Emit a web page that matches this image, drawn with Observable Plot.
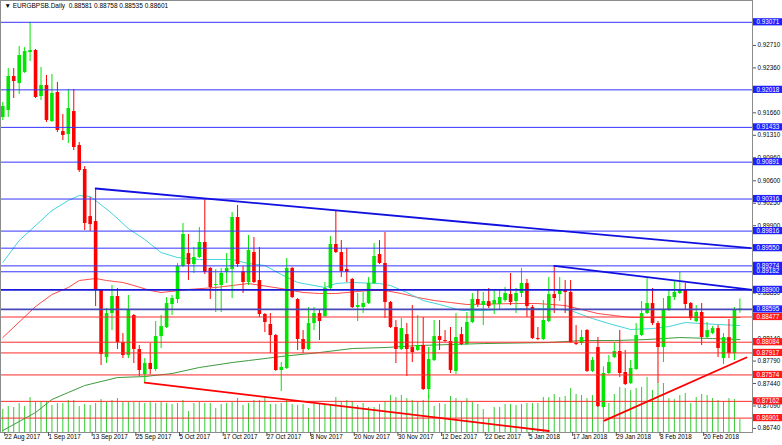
<!DOCTYPE html>
<html><head><meta charset="utf-8">
<script src="https://cdn.jsdelivr.net/npm/d3@7"></script>
<script src="https://cdn.jsdelivr.net/npm/@observablehq/plot@0.6"></script>
<style>
body{margin:0;background:#fff;}
#wrap{position:relative;width:782px;height:445px;overflow:hidden;font-family:"Liberation Sans",Arial,sans-serif;}
#wrap svg{position:absolute;left:0;top:0;}
</style></head><body><div id="wrap"></div>
<script>
// ---- data (daily bars, index 0 = 22 Aug 2017) ----
const dateLabels = ["22 Aug 2017","1 Sep 2017","13 Sep 2017","25 Sep 2017","5 Oct 2017","17 Oct 2017","27 Oct 2017","8 Nov 2017","20 Nov 2017","30 Nov 2017","12 Dec 2017","22 Dec 2017","5 Jan 2018","17 Jan 2018","29 Jan 2018","8 Feb 2018","20 Feb 2018"];
const dateBars = [0,8,16,24,32,40,48,56,64,72,80,88,96,104,112,120,128];

const open = [
.91587,.91696,.92226,.92117,.92289,.92600,.92631,.91914,.92086,.91525,
.91977,.91368,.91322,.91680,.91150,.90777,.90043,.89965,.88890,.87845,
.88531,.88796,.88079,.87876,.88500,.87970,.87581,.87752,.87659,.88172,
.88313,.88672,.88749,.89264,.89466,.89295,.89404,.89638,.89233,.88968,
.88968,.89171,.89218,.90028,.89186,.89015,.89482,.89046,.88516,.88360,
.88188,.87643,.87674,.89233,.88749,.88126,.87970,.88375,.88531,.88485,
.88921,.89607,.89482,.89218,.89062,.88625,.88625,.88687,.88999,.89451,
.89311,.88703,.88313,.87970,.88203,.88001,.87955,.88032,.87347,.87798,
.88172,.88110,.88095,.87628,.88203,.88048,.88391,.88749,.88656,.88718,
.88672,.88672,.88734,.88827,.88718,.88843,.88999,.88625,.88141,.88126,
.88406,.88827,.88827,.88890,.88859,.88063,.88063,.88266,.87628,.88001,
.87066,.87596,.87845,.87939,.87612,.87440,.87659,.88188,.88531,.88687,
.88375,.88001,.88578,.88781,.88843,.88890,.88687,.88406,.88547,.88157,
.88219,.88297,.87829,.88157,.87907,.88581];
const high = [
.91821,.92351,.92351,.92693,.92677,.93071,.92647,.92367,.92242,.92258,
.92133,.91634,.92024,.92024,.91197,.90823,.90340,.90480,.88906,.88609,
.88968,.88921,.88219,.88812,.88516,.88032,.87829,.88063,.88406,.88500,
.88781,.88812,.89311,.89934,.89763,.89560,.89872,.90316,.89249,.89218,
.89233,.89466,.90106,.90215,.89264,.89747,.89716,.89560,.88531,.88531,
.88204,.87767,.89389,.89249,.88765,.88266,.88625,.88625,.88578,.89015,
.89732,.90137,.89669,.89544,.89077,.88843,.88859,.89093,.89623,.89669,
.89794,.88718,.88422,.88453,.88375,.88656,.88500,.88469,.88001,.88422,
.88422,.88266,.88313,.88531,.88313,.88547,.88843,.88890,.88859,.88921,
.88890,.88890,.88937,.89155,.88921,.89233,.89062,.88656,.88313,.88734,
.89093,.89274,.89093,.89046,.89046,.88344,.88266,.88282,.87845,.88157,
.87700,.87876,.88079,.88266,.87955,.87798,.88375,.88718,.89077,.88921,
.88406,.88765,.88906,.89046,.89171,.88999,.88703,.88656,.88687,.88391,
.88328,.88344,.88219,.88438,.88625,.88758];
const low = [
.91540,.91587,.91883,.91946,.92273,.92460,.91883,.91852,.91509,.91509,
.91353,.91228,.91181,.91072,.90730,.89825,.89809,.88640,.87721,.87752,
.88266,.87970,.87829,.87829,.87752,.87549,.87440,.87581,.87628,.87986,
.88297,.88500,.88687,.89249,.89046,.89155,.89389,.89140,.88749,.88547,
.88547,.88999,.88765,.89249,.88843,.88968,.88999,.88469,.88235,.87907,
.87628,.87315,.87659,.88765,.87955,.87907,.87955,.88266,.88110,.88469,
.88906,.89466,.89093,.89015,.88609,.88406,.88531,.88672,.88983,.89295,
.88453,.88297,.87752,.87955,.87549,.87767,.87939,.87331,.87206,.87783,
.87955,.88079,.87596,.87581,.88032,.88032,.88375,.88625,.88344,.88609,
.88516,.88578,.88703,.88656,.88531,.88781,.88469,.88126,.88110,.88110,
.88391,.88531,.88718,.88531,.88063,.88032,.88032,.87612,.87612,.87066,
.87050,.87581,.87829,.87533,.87409,.87424,.87643,.88172,.88516,.88344,
.87440,.87767,.88563,.88734,.88827,.88578,.88422,.88391,.88032,.88141,
.88203,.87845,.87736,.87829,.87798,.88535];
const close = [
.91758,.92226,.92148,.92553,.92615,.92631,.91899,.92086,.91540,.91961,
.91384,.91306,.91727,.91119,.90761,.89934,.89918,.88906,.87892,.88531,
.88796,.88079,.87876,.88578,.87970,.87643,.87752,.87659,.88172,.88328,
.88687,.88765,.89264,.89763,.89295,.89404,.89638,.89171,.88937,.88983,
.89155,.89233,.90028,.89295,.89015,.89513,.89015,.88516,.88391,.88188,
.87643,.87690,.89233,.88781,.88126,.87970,.88375,.88531,.88406,.88921,
.89607,.89482,.89186,.89171,.88625,.88656,.88687,.88999,.89420,.89311,
.88703,.88313,.87970,.88297,.87970,.87923,.88032,.87347,.87814,.88172,
.88110,.88095,.87643,.88157,.88048,.88391,.88749,.88672,.88718,.88640,
.88734,.88781,.88843,.88703,.88843,.88999,.88640,.88141,.88126,.88422,
.88827,.88765,.88890,.88859,.88079,.88048,.88157,.87628,.87798,.87081,
.87596,.87767,.87939,.87596,.87424,.87674,.88188,.88531,.88687,.88375,
.88001,.88578,.88796,.88859,.88890,.88672,.88453,.88547,.88157,.88266,
.88297,.87986,.88157,.87907,.88593,.88601];
const volume = [
23,26,25,29,26,35,30,31,31,27, 29,29,32,32,26,28,27,29,33,30,
32,34,30,30,30,30,29,30,29,30, 29,28,29,32,21,29,30,29,29,24,
28,29,30,34,27,29,32,32,35,28, 28,29,32,28,27,28,24,28,28,28,
28,35,31,32,31,27,29,25,25,28, 31,37,35,37,34,32,31,32,37,26,
29,28,36,34,30,34,30,28,23,14, 25,25,28,28,27,28,29,29,29,35,
35,38,35,36,44,38,37,34,37,42, 40,29,38,45,44,42,44,45,55,42,
49,49,34,33,37,39,29,35,38,37, 34,32,31,34,33,13];

// moving averages (bar index, price)
const cyanIdx = [0,3,6,9,12,14,16,17,20,23,26,29,32,36,42,45,48,51,54,59,61,64,69,71,74,77,80,82,84,88,94,100,104,108,111,115,119,122,125,128,131,135];
const cyanVal = [.89327,.89669,.89903,.90137,.90293,.90371,.90355,.90293,.90090,.89856,.89685,.89482,.89404,.89373,.89373,.89311,.89280,.89140,.89015,.88937,.88999,.89015,.88999,.88968,.88859,.88734,.88672,.88625,.88578,.88578,.88609,.88609,.88578,.88453,.88375,.88282,.88297,.88328,.88391,.88375,.88360,.88344];
const redMaIdx = [0,6,9,12,14,17,19,22,24,27,29,34,39,45,51,55,58,61,67,70,73,76,79,82,85,94,98,103,106,109,112,115,135];
const redMaVal = [.88157,.88640,.88827,.88937,.89046,.89077,.89046,.89015,.88968,.88890,.88859,.88906,.88937,.88999,.88921,.88859,.88843,.88843,.88890,.88890,.88843,.88781,.88734,.88703,.88672,.88687,.88687,.88656,.88594,.88531,.88500,.88469,.88469];
const greenMaIdx = [0,6,9,12,15,18,21,26,31,36,42,45,51,58,64,70,76,82,88,100,106,112,118,124,130,135];
const greenMaVal = [.86707,.86988,.87191,.87300,.87409,.87471,.87533,.87549,.87596,.87690,.87767,.87798,.87861,.87923,.87986,.88001,.88032,.88048,.88063,.88079,.88110,.88110,.88126,.88157,.88141,.88126];

// horizontal levels
const blueLevels = [0.93071,0.92018,0.91433,0.90891,0.90316,0.89816,0.89550,0.89274,0.89182,0.88900,0.88595];
const redLevels = [0.88477,0.88084,0.87917,0.87574,0.87162,0.86901];

// trend lines (bar index, price)
const blueTrendA = [[17,0.90480],[137,0.89550]];
const blueTrendB = [[101,0.89274],[137.3,0.88900]];
const redTrendA = [[26,0.87455],[100,0.86700]];
const redTrendB = [[110.2,0.86862],[136.2,0.87845]];

// price-axis ticks that show (fully or partly) beside the level labels
const yTicks = [0.92710,0.92360,0.91660,0.91310,0.90960,0.90600,0.90250,0.89900,0.88850,0.88140,0.87790,0.87440,0.87090,0.86740];
const titleText = "\u25BC EURGBPSB.Daily  0.88581 0.88758 0.88535 0.88601";

// ---- build ----
const W = 782, H = 445;
const xDomain = [-0.42, 137.31];
const yDomain = [0.866766, 0.934108];
const FONT = "Liberation Sans, Arial, sans-serif";
const UP = "#00e600", DOWN = "#ff0000";

const bars = open.map((o, i) => ({i, o, h: high[i], l: low[i], c: close[i], v: volume[i], col: close[i] >= o ? UP : DOWN}));
const toPts = (idx, val) => idx.map((i, k) => ({i, p: val[k]}));
const seg = (a) => a.map(([i, p]) => ({i, p}));
const labelOf = new Map(dateBars.map((b, k) => [b, dateLabels[k]]));

const common = {width: W, height: H, marginLeft: 0, marginRight: 30, marginTop: 0, marginBottom: 13};

const volPlot = Plot.plot({
  ...common,
  x: {domain: xDomain, axis: null, label: null},
  y: {domain: [0, 432], axis: null, label: null},
  marks: [Plot.ruleX(bars, {x: "i", y1: 0, y2: "v", stroke: "#32cd32", strokeWidth: 1})]
});

const main = Plot.plot({
  ...common,
  style: {background: "transparent", fontFamily: FONT, fontSize: "6.3px", color: "#000"},
  x: {domain: xDomain, axis: null, label: null},
  y: {domain: yDomain, axis: null, label: null},
  marks: [
    Plot.line(toPts(greenMaIdx, greenMaVal), {x: "i", y: "p", stroke: "#3f9a3f", strokeWidth: 1}),
    Plot.line(toPts(redMaIdx, redMaVal), {x: "i", y: "p", stroke: "#ff4a4a", strokeWidth: 1}),
    Plot.line(toPts(cyanIdx, cyanVal), {x: "i", y: "p", stroke: "#45d3dc", strokeWidth: 1}),
    Plot.ruleX(bars, {x: "i", y1: "l", y2: "h", stroke: "col", strokeWidth: 1}),
    Plot.ruleX(bars, {x: "i", y1: "o", y2: "c", stroke: "col", strokeWidth: 3.6}),
    Plot.ruleY(blueLevels, {stroke: d => d === 0.889 ? "#1a1ad8" : d === 0.88595 ? "#4848b8" : "#3535ff", strokeWidth: d => (d === 0.889 || d === 0.88595) ? 1.8 : 1}),
    Plot.ruleY(redLevels, {stroke: "#ff2a2a", strokeWidth: 1}),
    Plot.line(seg(blueTrendA), {x: "i", y: "p", stroke: "#1010e0", strokeWidth: 1.8}),
    Plot.line(seg(blueTrendB), {x: "i", y: "p", stroke: "#1010e0", strokeWidth: 1.8}),
    Plot.line(seg(redTrendA), {x: "i", y: "p", stroke: "#ff0000", strokeWidth: 1.8}),
    Plot.line(seg(redTrendB), {x: "i", y: "p", stroke: "#ff0000", strokeWidth: 1.8}),
    Plot.frame({stroke: "#8c8c8c"}),
    Plot.axisY(yTicks, {anchor: "right", label: null, tickSize: 3, tickPadding: 2, tickFormat: d => d.toFixed(5), fontSize: 6.3, fill: "#000", stroke: "#555"}),
    Plot.axisX(dateBars, {anchor: "bottom", label: null, tickSize: 4, tickPadding: -1.5, tickFormat: d => labelOf.get(d), textAnchor: "start", dx: 2, fontSize: 6.3, fill: "#000", stroke: "#555"}),
    Plot.text([titleText], {frameAnchor: "top-left", dx: 4, dy: 3, fontSize: 6.5, fill: "#000"})
  ]
});

const wrap = document.getElementById("wrap");
wrap.appendChild(volPlot);
wrap.appendChild(main);

// price labels for the horizontal levels, placed with the plot's own y scale
const ys = main.scale("y");
const g = d3.select(main).append("g")
  .attr("font-family", FONT).attr("font-size", 6.3).attr("text-anchor", "start");
const levels = [...blueLevels.map(v => ({v, c: "#1f1fff"})), ...redLevels.map(v => ({v, c: "#ff1a1a"}))];
levels.forEach(l => {
  const y = ys.apply(l.v);
  g.append("rect").attr("x", 753).attr("y", y - 3.6).attr("width", 29).attr("height", 7.2).attr("fill", l.c);
});
levels.forEach(l => {
  const y = ys.apply(l.v);
  g.append("text").attr("x", 756.5).attr("y", y).attr("dy", "0.35em")
    .attr("text-anchor", "start").attr("fill", "#fff").text(l.v.toFixed(5));
});
</script></body></html>
